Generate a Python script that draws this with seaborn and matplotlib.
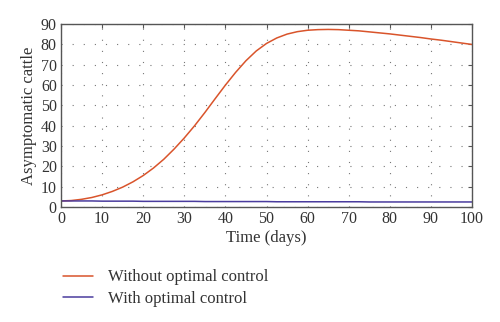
import matplotlib
matplotlib.use("Agg")
import matplotlib.pyplot as plt
import seaborn as sns
import pandas as pd
from matplotlib.lines import Line2D

days = [0, 2.5, 5, 7.5, 10, 12.5, 15, 17.5, 20, 22.5, 25, 27.5, 30, 32.5, 35, 37.5,
        40, 42.5, 45, 47.5, 50, 52.5, 55, 57.5, 60, 62.5, 65, 67.5, 70, 72.5, 75,
        77.5, 80, 82.5, 85, 87.5, 90, 92.5, 95, 97.5, 100]
without_control = [3.0, 3.2, 3.8, 4.7, 6.0, 7.7, 9.8, 12.4, 15.5, 19.2, 23.5, 28.5, 34.0,
                   40.0, 46.5, 53.3, 60.0, 66.3, 72.0, 76.8, 80.5, 83.2, 85.1, 86.3, 87.0,
                   87.3, 87.4, 87.3, 87.0, 86.7, 86.2, 85.7, 85.2, 84.6, 84.0, 83.4,
                   82.7, 82.1, 81.4, 80.7, 80.0]
with_control = [3.0, 3.0, 3.0, 3.0, 2.9, 2.9, 2.9, 2.9, 2.8, 2.8, 2.8, 2.8, 2.8, 2.8,
                2.7, 2.7, 2.7, 2.7, 2.7, 2.7, 2.7, 2.6, 2.6, 2.6, 2.6, 2.6, 2.6, 2.6,
                2.6, 2.6, 2.5, 2.5, 2.5, 2.5, 2.5, 2.5, 2.5, 2.5, 2.5, 2.5, 2.5]
labels = ["Without optimal control", "With optimal control"]
colors = ["#D9542B", "#4A3C9E"]

df = pd.DataFrame({
    "day": days * 2,
    "value": without_control + with_control,
    "series": [labels[0]] * len(days) + [labels[1]] * len(days),
})

sns.set_style("white")
plt.rcParams["font.family"] = ["Liberation Serif", "DejaVu Serif"]

fig = plt.figure(figsize=(5, 3.22), dpi=100)
ax = fig.add_axes([0.122, 0.357, 0.822, 0.568])

sns.lineplot(data=df, x="day", y="value", hue="series", palette=colors,
             linewidth=1.1, ax=ax, legend=False)

ax.set_xlim(0, 100)
ax.set_ylim(0, 90)
ax.set_xticks(range(0, 101, 10))
ax.set_yticks(range(0, 91, 10))
ax.grid(True, color="#777777", linestyle=(0, (1, 9)), linewidth=0.8)
for s in ax.spines.values():
    s.set_color("#555555")
    s.set_linewidth(1.0)
ax.tick_params(direction="in", length=3, color="#555555", labelsize=11.5,
               top=True, right=True, labelcolor="#333333", pad=3)
ax.set_xlabel("Time (days)", fontsize=12, color="#333333", labelpad=2)
ax.set_ylabel("Asymptomatic cattle", fontsize=12, color="#333333", labelpad=3)

handles = [Line2D([0], [0], color=c, linewidth=1.1) for c in colors]
fig.legend(handles, labels, loc="upper left", bbox_to_anchor=(0.095, 0.21),
           frameon=False, fontsize=12, handlelength=1.8, handletextpad=0.9,
           labelspacing=0.35, labelcolor="#333333")

fig.savefig("out.png", dpi=100)
